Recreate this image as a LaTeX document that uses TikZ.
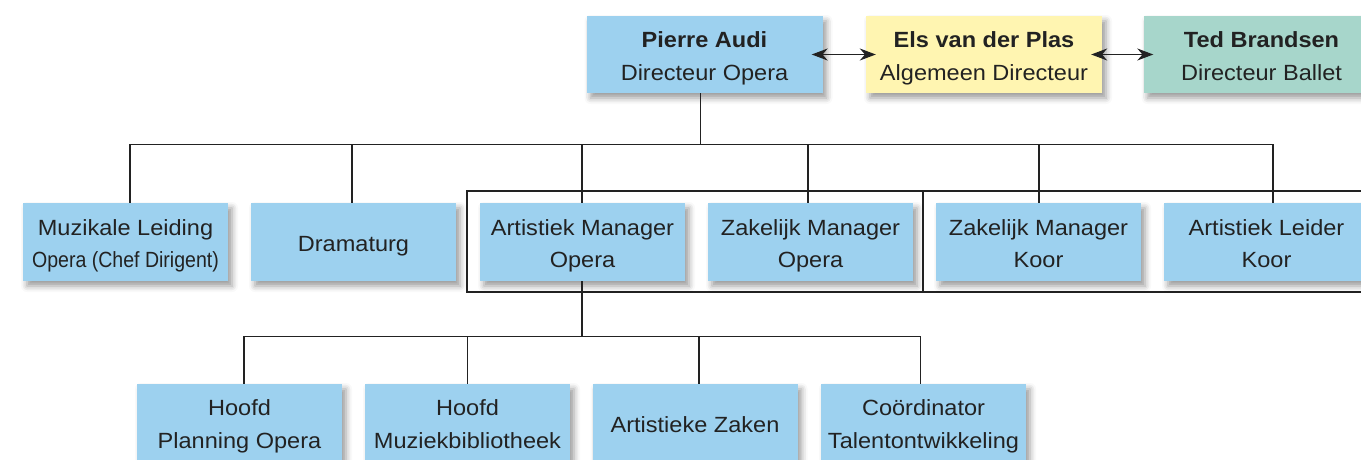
\documentclass[tikz,border=0pt]{standalone}
\usepackage{fontspec}
\setmainfont{Liberation Sans}[FakeStretch=1.07]
\usepackage{graphicx}
\usetikzlibrary{arrows.meta,shadows.blur}
\definecolor{opblue}{HTML}{9DD1EF}
\definecolor{alyellow}{HTML}{FFF5B1}
\definecolor{balgreen}{HTML}{A7D6CB}
\definecolor{ink}{HTML}{222222}
\newcommand\boxlines[1]{\begin{tabular}{@{}c@{}}\rule{0pt}{28.5pt}#1\end{tabular}}
\tikzset{
  box/.style={fill=opblue, text=ink, inner sep=0pt,
    minimum width=205pt, minimum height=78pt, font=\fontsize{22}{32}\selectfont,
    blur shadow={shadow xshift=4pt, shadow yshift=-5pt, shadow blur radius=6pt, shadow opacity=40}},
  topbox/.style={box, minimum width=236pt, minimum height=77pt, font=\fontsize{22}{33}\selectfont},
  lowbox/.style={box, font=\fontsize{22}{33}\selectfont},
  link/.style={draw=ink, line width=1.1pt},
  duo/.style={link, {Stealth[length=16pt,width=12pt]}-{Stealth[length=16pt,width=12pt]}, shorten <=-11pt, shorten >=-10pt}
}
\begin{document}
\begin{tikzpicture}[x=1pt,y=-1pt]
\useasboundingbox (0,0) rectangle (1361,460);
\clip (0,0) rectangle (1361,460);
\draw[link] (467,191) rectangle (923,292);
\draw[link] (923,191) rectangle (1390,292);
\node[topbox] (audi) at (704.5,54.5) {\boxlines{\textbf{Pierre Audi}\\Directeur Opera}};
\node[topbox,fill=alyellow] (plas) at (984,54.5) {\boxlines{\textbf{Els van der Plas}\\Algemeen Directeur}};
\node[topbox,fill=balgreen] (brandsen) at (1261.5,54.5) {\boxlines{\textbf{Ted Brandsen}\\Directeur Ballet}};
\draw[duo] (audi.east) -- (plas.west);
\draw[duo] (plas.east) -- (brandsen.west);
\node[box] (muziek) at (125.5,242) {\boxlines{Muzikale Leiding\\\scalebox{.83}[1]{Opera (Chef Dirigent)}}};
\node[box] (dramaturg) at (353.5,242) {\boxlines{Dramaturg}};
\node[box] (amopera) at (582.5,242) {\boxlines{Artistiek Manager\\Opera}};
\node[box] (zmopera) at (810.5,242) {\boxlines{Zakelijk Manager\\Opera}};
\node[box] (zmkoor) at (1038.5,242) {\boxlines{Zakelijk Manager\\Koor}};
\node[box] (alkoor) at (1266.5,242) {\boxlines{Artistiek Leider\\Koor}};
\path ([xshift=-4pt]audi.south) ++(0,51) coordinate (bus1);
\draw[link] ([xshift=-4pt]audi.south) -- (bus1);
\draw[link] ([xshift=4.5pt]muziek.north) |- (bus1) -| ([xshift=6.5pt]alkoor.north);
\foreach \n/\dx in {dramaturg/-1.5,amopera/-0.5,zmopera/-2.5,zmkoor/0.5}
  \draw[link] ([xshift=\dx pt]\n.north) -- ([xshift=\dx pt]\n.north |- bus1);
\node[lowbox] (planning) at (239.5,423) {\boxlines{Hoofd\\Planning Opera}};
\node[lowbox] (bibliotheek) at (467.5,423) {\boxlines{Hoofd\\Muziekbibliotheek}};
\node[lowbox] (zaken) at (695,423) {\boxlines{Artistieke Zaken}};
\node[lowbox] (talent) at (923.5,423) {\boxlines{Coördinator\\Talentontwikkeling}};
\path ([xshift=-0.5pt]amopera.south) ++(0,55) coordinate (bus2);
\draw[link] ([xshift=-0.5pt]amopera.south) -- (bus2);
\draw[link] ([xshift=4.5pt]planning.north) |- (bus2) -| ([xshift=-3pt]talent.north);
\foreach \n/\dx in {bibliotheek/0,zaken/4}
  \draw[link] ([xshift=\dx pt]\n.north) -- ([xshift=\dx pt]\n.north |- bus2);
\end{tikzpicture}
\end{document}
